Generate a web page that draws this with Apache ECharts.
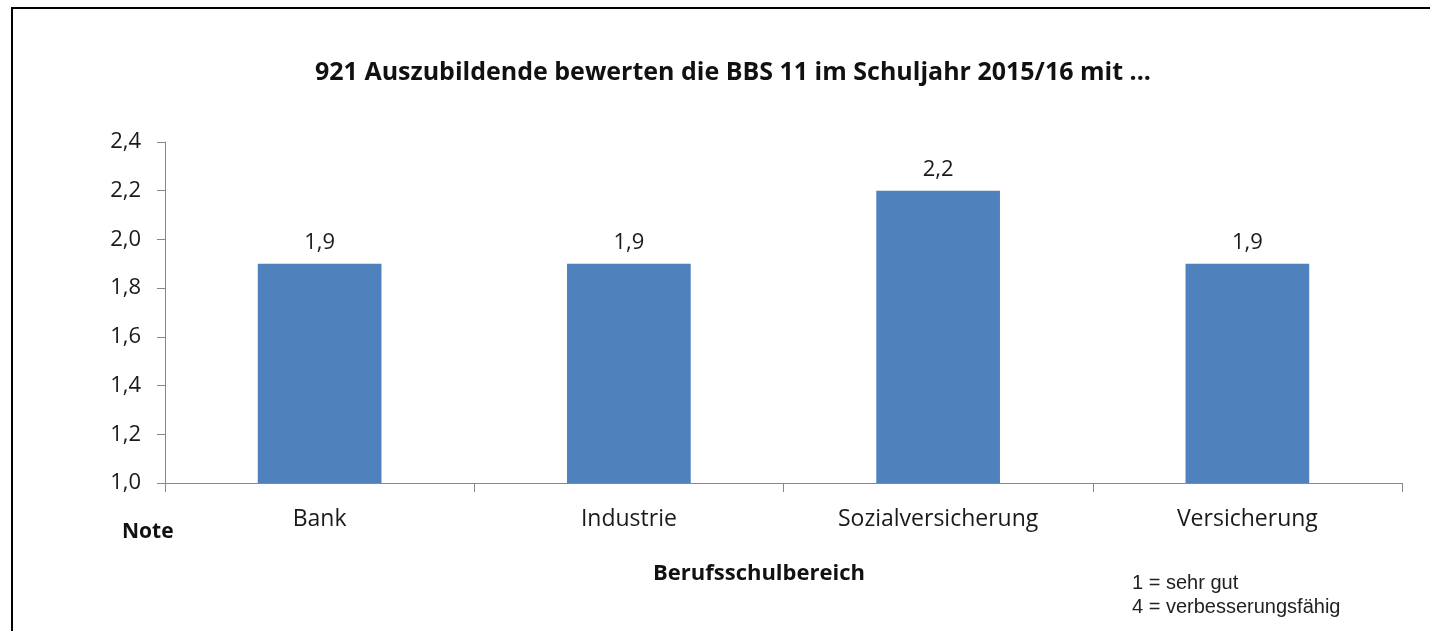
<!DOCTYPE html>
<html>
<head>
<meta charset="utf-8">
<script src="https://cdn.jsdelivr.net/npm/echarts@6/dist/echarts.min.js"></script>
<style>
  html, body { margin: 0; padding: 0; background: #fff; overflow: hidden; }
  #chart { width: 1430px; height: 631px; }
  #rahmen {
    position: absolute; left: 11px; top: 7px; width: 1419px; height: 624px;
    border-left: 2px solid #000; border-top: 2px solid #000; pointer-events: none;
    box-sizing: border-box;
  }
</style>
</head>
<body>
<div id="chart"></div>
<div id="rahmen"></div>
<script>
// Daten
var bereiche = ['Bank', 'Industrie', 'Sozialversicherung', 'Versicherung'];
var noten = [1.9, 1.9, 2.2, 1.9];
var yMin = 1.0, yMax = 2.4, yStep = 0.2;

var titelText = '921 Auszubildende bewerten die BBS 11 im Schuljahr 2015/16 mit ...';
var achsenTitel = 'Berufsschulbereich';
var legendeZeilen = ['1 = sehr gut', '4 = verbesserungsfähig'];

var fontMain = '"Open Sans", "Noto Sans", sans-serif';

function komma(v) {
    return v.toFixed(1).replace('.', ',');
}

var chart = echarts.init(document.getElementById('chart'));

var option = {
    animation: false,
    title: {
        text: titelText,
        left: 310,
        top: 55,
        textStyle: { fontFamily: fontMain, fontWeight: 'bold', fontSize: 25, color: '#111' }
    },
    grid: { left: 165, right: 28, top: 142, bottom: 148 },
    xAxis: {
        type: 'category',
        data: bereiche,
        boundaryGap: true,
        axisLine: { lineStyle: { color: '#888', width: 1 } },
        axisTick: { show: true, length: 9, alignWithLabel: false, lineStyle: { color: '#888' } },
        axisLabel: { fontFamily: fontMain, fontSize: 23, color: '#1a1a1a', margin: 25 }
    },
    yAxis: {
        type: 'value',
        min: yMin,
        max: yMax,
        interval: yStep,
        splitLine: { show: false },
        axisLine: { show: true, lineStyle: { color: '#888', width: 1 } },
        axisTick: { show: true, length: 8, lineStyle: { color: '#888' } },
        axisLabel: { fontFamily: fontMain, fontSize: 22, color: '#1a1a1a', margin: 24, formatter: komma }
    },
    series: [{
        type: 'bar',
        data: noten,
        barWidth: '40%',
        itemStyle: { color: '#4F81BD' },
        label: {
            show: true,
            position: 'top',
            distance: 10,
            fontFamily: fontMain,
            fontSize: 22,
            color: '#1a1a1a',
            formatter: function (p) { return komma(p.value); }
        }
    }],
    graphic: [
        {
            type: 'text',
            x: 122,
            y: 532,
            style: {
                text: 'Note', fontFamily: fontMain, fontWeight: 'bold', fontSize: 21,
                fill: '#111', verticalAlign: 'middle'
            }
        },
        {
            type: 'text',
            x: 759,
            y: 574,
            style: {
                text: achsenTitel, fontFamily: fontMain, fontWeight: 'bold', fontSize: 22,
                fill: '#111', align: 'center', verticalAlign: 'middle'
            }
        },
        {
            type: 'text',
            x: 1132,
            y: 571,
            style: {
                text: legendeZeilen.join('\n'),
                fontFamily: 'Arial, "Liberation Sans", sans-serif',
                fontSize: 20,
                lineHeight: 24,
                fill: '#222'
            }
        }
    ]
};

chart.setOption(option);
</script>
</body>
</html>
